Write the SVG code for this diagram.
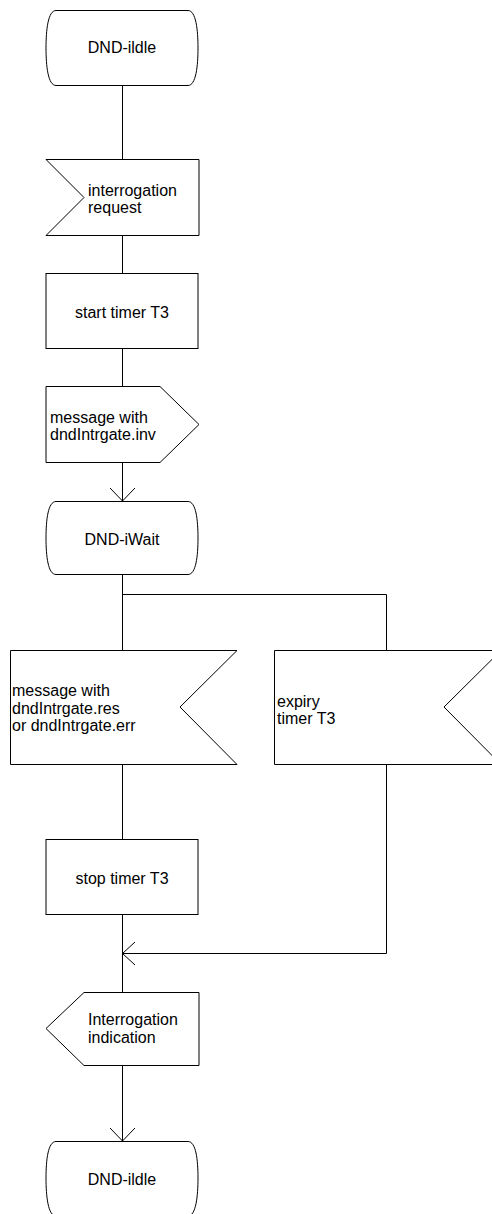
<svg xmlns="http://www.w3.org/2000/svg" width="492" height="1214" viewBox="0 0 492 1214">
<style>
.s{fill:#fff;stroke:#000;stroke-width:1}
.l{fill:none;stroke:#000;stroke-width:1}
text{font-family:"Liberation Sans",Arial,sans-serif;font-size:16px;fill:#000}
.c{text-anchor:middle}
</style>
<rect width="492" height="1214" fill="#fff"/>
<g id="connectors">
<line class="l" x1="122.5" y1="86" x2="122.5" y2="159"/>
<line class="l" x1="122.5" y1="235" x2="122.5" y2="273"/>
<line class="l" x1="122.5" y1="348" x2="122.5" y2="386"/>
<line class="l" x1="122.5" y1="462" x2="122.5" y2="501"/>
<polyline class="l" points="110,488 122.5,501 135,488"/>
<line class="l" x1="122.5" y1="574" x2="122.5" y2="650"/>
<polyline class="l" points="122.5,594.5 386.5,594.5 386.5,650"/>
<line class="l" x1="122.5" y1="764" x2="122.5" y2="839"/>
<polyline class="l" points="386.5,764 386.5,953.5 122.5,953.5"/>
<polyline class="l" points="135,942 122.5,953.5 135,965"/>
<line class="l" x1="122.5" y1="915" x2="122.5" y2="992"/>
<line class="l" x1="122.5" y1="1065" x2="122.5" y2="1141"/>
<polyline class="l" points="110,1128 122.5,1141 135,1128"/>
</g>
<g id="state-idle-top">
<path class="s" d="M56,10.5 H188 C196,10.5 198,30 198,48 C198,66 196,85.5 188,85.5 H56 C48,85.5 46,66 46,48 C46,30 48,10.5 56,10.5 Z"/>
<text class="c" x="122" y="53">DND-ildle</text>
</g>
<g id="input-interrogation-request">
<polygon class="s" points="46,159.5 199,159.5 199,235.5 46,235.5 84,197.5"/>
<text x="88" y="196">interrogation</text>
<text x="88" y="213">request</text>
</g>
<g id="task-start-timer">
<rect class="s" x="46" y="273.5" width="152" height="75"/>
<text class="c" x="122" y="318">start timer T3</text>
</g>
<g id="output-dndIntrgate-inv">
<polygon class="s" points="46,386.5 160,386.5 199,424.5 160,462.5 46,462.5"/>
<text x="50" y="423">message with</text>
<text x="50" y="440">dndIntrgate.inv</text>
</g>
<g id="state-iwait">
<path class="s" d="M56,501.5 H188 C196,501.5 198,520 198,538 C198,556 196,574.5 188,574.5 H56 C48,574.5 46,556 46,538 C46,520 48,501.5 56,501.5 Z"/>
<text class="c" x="122" y="545">DND-iWait</text>
</g>
<g id="input-dndIntrgate-res">
<polygon class="s" points="10.5,650.5 237,650.5 180,707 237,764.5 10.5,764.5"/>
<text x="12" y="696">message with</text>
<text x="12" y="713.5">dndIntrgate.res</text>
<text x="12" y="731">or dndIntrgate.err</text>
</g>
<g id="input-expiry-timer">
<polygon class="s" points="274.5,650.5 501,650.5 444,707 501,764.5 274.5,764.5"/>
<text x="277" y="707">expiry</text>
<text x="277" y="724">timer T3</text>
</g>
<g id="task-stop-timer">
<rect class="s" x="46" y="839.5" width="152" height="75"/>
<text class="c" x="122" y="884">stop timer T3</text>
</g>
<g id="output-interrogation-indication">
<polygon class="s" points="84,992.5 199,992.5 199,1065.5 84,1065.5 46,1028.5"/>
<text x="88" y="1025">Interrogation</text>
<text x="88" y="1043">indication</text>
</g>
<g id="state-idle-bottom">
<path class="s" d="M56,1141.5 H188 C196,1141.5 198,1160 198,1178 C198,1196 196,1216 188,1216 H56 C48,1216 46,1196 46,1178 C46,1160 48,1141.5 56,1141.5 Z"/>
<text class="c" x="122" y="1185">DND-ildle</text>
</g>
</svg>
